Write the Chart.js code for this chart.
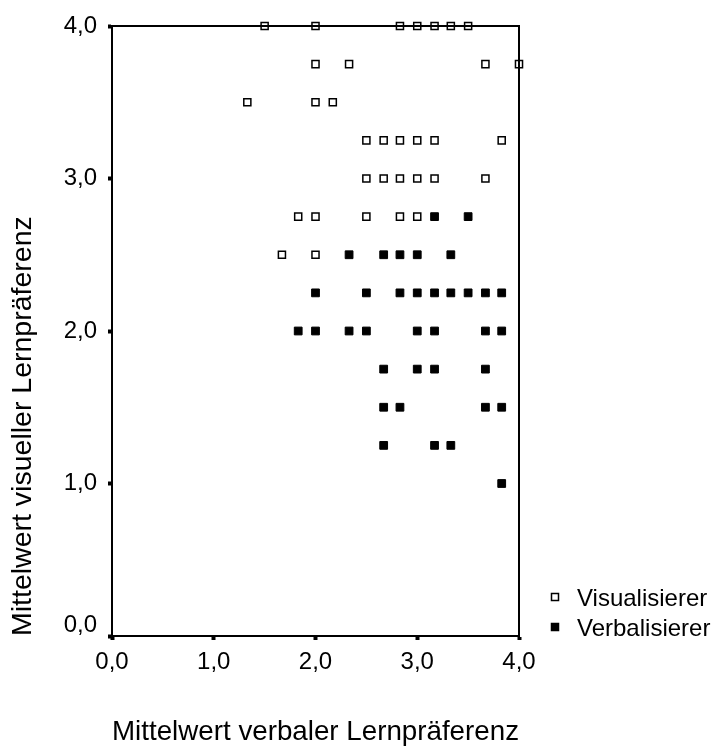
<!DOCTYPE html>
<html>
<head>
<meta charset="utf-8">
<script src="https://cdn.jsdelivr.net/npm/chart.js@4.4.1/dist/chart.umd.min.js"></script>
<style>
  body { margin: 0; background: #fff; }
  canvas { display: block; }
</style>
</head>
<body>
<canvas id="scatterChart" width="718" height="749"></canvas>
<script>
// Visualisierer (offene Quadrate)
const visX = [1.5, 2.0, 2.83, 3.0, 3.17, 3.33, 3.5,
              2.0, 2.33, 3.67, 4.0,
              1.33, 2.0, 2.17,
              2.5, 2.67, 2.83, 3.0, 3.17, 3.83,
              2.5, 2.67, 2.83, 3.0, 3.17, 3.67,
              1.83, 2.0, 2.5, 2.83, 3.0,
              1.67, 2.0];
const visY = [4.0, 4.0, 4.0, 4.0, 4.0, 4.0, 4.0,
              3.75, 3.75, 3.75, 3.75,
              3.5, 3.5, 3.5,
              3.25, 3.25, 3.25, 3.25, 3.25, 3.25,
              3.0, 3.0, 3.0, 3.0, 3.0, 3.0,
              2.75, 2.75, 2.75, 2.75, 2.75,
              2.5, 2.5];

// Verbalisierer (gefuellte Quadrate)
const verbX = [3.17, 3.5,
               2.33, 2.67, 2.83, 3.0, 3.33,
               2.0, 2.5, 2.83, 3.0, 3.17, 3.33, 3.5, 3.67, 3.83,
               1.83, 2.0, 2.33, 2.5, 3.0, 3.17, 3.67, 3.83,
               2.67, 3.0, 3.17, 3.67,
               2.67, 2.83, 3.67, 3.83,
               2.67, 3.17, 3.33,
               3.83];
const verbY = [2.75, 2.75,
               2.5, 2.5, 2.5, 2.5, 2.5,
               2.25, 2.25, 2.25, 2.25, 2.25, 2.25, 2.25, 2.25, 2.25,
               2.0, 2.0, 2.0, 2.0, 2.0, 2.0, 2.0, 2.0,
               1.75, 1.75, 1.75, 1.75,
               1.5, 1.5, 1.5, 1.5,
               1.25, 1.25, 1.25,
               1.0];

const seriesNames = ['Visualisierer', 'Verbalisierer'];
const axisTicks = [0, 1, 2, 3, 4];
const xTitle = 'Mittelwert verbaler Lernpräferenz';
const yTitle = 'Mittelwert visueller Lernpräferenz';

const toPoints = (xs, ys) => xs.map((x, i) => ({ x: x, y: ys[i] }));
const fmt = v => Number(v).toFixed(1).replace('.', ',');

const fontFamily = '"Liberation Sans", Arial, sans-serif';
const titleFont = { family: fontFamily, size: 28.5 };

// Rahmen um den Plotbereich (ueber den Punkten, wie im Original)
const framePlugin = {
    id: 'frame',
    afterDatasetsDraw(chart) {
        const { ctx, chartArea: a } = chart;
        ctx.save();
        ctx.strokeStyle = '#000';
        ctx.lineWidth = 2;
        ctx.strokeRect(a.left, a.top, a.right - a.left, a.bottom - a.top);
        ctx.restore();
    }
};

// Legende unten rechts
const legendPlugin = {
    id: 'sideLegend',
    afterDraw(chart) {
        const { ctx, chartArea: a } = chart;
        ctx.save();
        ctx.font = '24px ' + fontFamily;
        ctx.textBaseline = 'middle';
        chart.data.datasets.forEach((ds, i) => {
            const mx = a.right + 36;
            const my = a.bottom - 39 + i * 30;
            ctx.lineWidth = 1.5;
            ctx.strokeStyle = '#000';
            ctx.fillStyle = ds.backgroundColor;
            ctx.fillRect(mx - 3.5, my - 3.5, 7, 7);
            ctx.strokeRect(mx - 3.5, my - 3.5, 7, 7);
            ctx.fillStyle = '#000';
            ctx.fillText(ds.label, mx + 22, my + 2);
        });
        ctx.restore();
    }
};

new Chart(document.getElementById('scatterChart'), {
    type: 'scatter',
    data: {
        datasets: [{
            label: seriesNames[0],
            data: toPoints(visX, visY),
            pointStyle: 'rect',
            radius: 5,
            borderWidth: 1.5,
            borderColor: '#000',
            backgroundColor: '#fff',
            clip: false
        }, {
            label: seriesNames[1],
            data: toPoints(verbX, verbY),
            pointStyle: 'rect',
            radius: 5.5,
            borderWidth: 1,
            borderColor: '#000',
            backgroundColor: '#000',
            clip: false
        }]
    },
    options: {
        responsive: false,
        animation: false,
        layout: { padding: { left: 0, top: 26, right: 199, bottom: 0 } },
        plugins: {
            legend: { display: false },
            tooltip: { enabled: false }
        },
        scales: {
            x: {
                type: 'linear',
                min: 0,
                max: 4,
                afterBuildTicks: s => { s.ticks = axisTicks.map(v => ({ value: v })); },
                afterFit: s => { s.height = 113; },
                ticks: { color: '#000', font: { family: fontFamily, size: 24 }, padding: 8, callback: fmt, maxRotation: 0 },
                grid: { drawOnChartArea: false, drawTicks: true, tickLength: 4, tickWidth: 4, tickColor: '#000' },
                border: { display: true, color: '#000', width: 2 },
                title: { display: true, text: xTitle, align: 'start', color: '#000', font: titleFont, padding: { top: 0, bottom: 0 } }
            },
            y: {
                type: 'linear',
                min: 0,
                max: 4,
                afterBuildTicks: s => { s.ticks = axisTicks.map(v => ({ value: v })); },
                afterFit: s => { s.width = 112; },
                ticks: {
                    color: '#000',
                    font: { family: fontFamily, size: 24, lineHeight: 0.85 },
                    padding: 11,
                    // "0,0" sitzt im Original etwas ueber dem Tick
                    callback: v => v === 0 ? [fmt(v), ''] : fmt(v)
                },
                grid: { drawOnChartArea: false, drawTicks: true, tickLength: 4, tickWidth: 4, tickColor: '#000' },
                border: { display: true, color: '#000', width: 2 },
                title: { display: true, text: yTitle, align: 'start', color: '#000', font: titleFont, padding: { top: 6, bottom: 0 } }
            }
        }
    },
    plugins: [framePlugin, legendPlugin]
});
</script>
</body>
</html>
